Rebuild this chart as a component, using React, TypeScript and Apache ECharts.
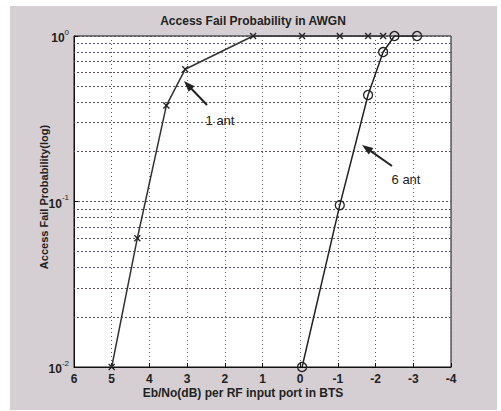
import React, { useEffect, useRef } from "react";
import * as echarts from "echarts";

// ---- data ----
const oneAntX = [5, 4.32, 3.55, 3.05, 1.25, -0.05, -1.05, -1.8, -2.2];
const oneAntY = [0.01, 0.06, 0.38, 0.63, 1, 1, 1, 1, 1];
const sixAntX = [-0.05, -1.05, -1.8, -2.2, -2.5, -3.1];
const sixAntY = [0.01, 0.095, 0.44, 0.8, 1, 1];
const minorGridY = [
  0.02, 0.03, 0.04, 0.05, 0.06, 0.07, 0.08, 0.09,
  0.2, 0.3, 0.4, 0.5, 0.6, 0.7, 0.8, 0.9,
];
const titleText = "Access Fail Probability in AWGN";
const xLabelText = "Eb/No(dB) per RF input port in BTS";
const yLabelText = "Access Fail Probability(log)";
const annotations = [
  { text: "1 ant", tip: [184, 81], tail: [207, 105], label: [220, 120] },
  { text: "6 ant", tip: [362, 145], tail: [392, 166], label: [406, 179] },
];

const W = 501;
const H = 411;
const INK = "#222";
const FONT = "'Liberation Sans', Arial, sans-serif";

function arrowGraphics(a: any) {
  const [tx, ty] = a.tip;
  const [sx, sy] = a.tail;
  const dx = tx - sx;
  const dy = ty - sy;
  const len = Math.sqrt(dx * dx + dy * dy);
  const ux = dx / len;
  const uy = dy / len;
  const hl = 11;
  const hw = 4;
  const bx = tx - ux * hl;
  const by = ty - uy * hl;
  const px = -uy * hw;
  const py = ux * hw;
  return [
    {
      type: "line",
      shape: { x1: sx, y1: sy, x2: bx + ux * 2, y2: by + uy * 2 },
      style: { stroke: INK, lineWidth: 2 },
      z: 100,
    },
    {
      type: "polygon",
      shape: {
        points: [
          [tx, ty],
          [bx + px, by + py],
          [bx - px, by - py],
        ],
      },
      style: { fill: INK },
      z: 100,
    },
    {
      type: "text",
      x: a.label[0],
      y: a.label[1],
      style: {
        text: a.text,
        fill: INK,
        font: `13px ${FONT}`,
        textAlign: "center",
        textVerticalAlign: "middle",
      },
      z: 100,
    },
  ];
}

export default function App() {
  const ref = useRef<HTMLDivElement>(null);

  useEffect(() => {
    if (!ref.current) return;
    const chart = echarts.init(ref.current, undefined, { renderer: "svg" });
    const oneAnt = oneAntX.map((x, i) => [x, oneAntY[i]]);
    const sixAnt = sixAntX.map((x, i) => [x, sixAntY[i]]);

    const option: any = {
      animation: false,
      backgroundColor: "transparent",
      grid: {
        left: 74,
        right: 50,
        top: 36,
        bottom: 44,
        show: true,
        backgroundColor: "#ffffff",
        borderColor: "#111",
        borderWidth: 1,
      },
      xAxis: {
        type: "value",
        inverse: true,
        min: -4,
        max: 6,
        interval: 1,
        axisLine: { show: true, onZero: false, lineStyle: { color: "#111", width: 1 } },
        axisTick: { show: true, inside: true, length: 4, lineStyle: { color: "#111" } },
        axisLabel: {
          color: INK,
          fontSize: 12,
          fontWeight: "bold",
          fontFamily: FONT,
          margin: 6,
        },
        splitLine: {
          show: true,
          lineStyle: { color: "#666", type: [1, 3], width: 1 },
        },
      },
      yAxis: {
        type: "log",
        logBase: 10,
        min: 0.01,
        max: 1,
        interval: 1,
        axisLine: { show: true, onZero: false, lineStyle: { color: "#111", width: 1 } },
        axisTick: { show: true, inside: true, length: 4, lineStyle: { color: "#111" } },
        axisLabel: {
          margin: 5,
          formatter: (v: number) => {
            const e = Math.round(Math.log10(v));
            return `{b|10}{s|${e}}`;
          },
          rich: {
            b: {
              fontSize: 12,
              fontWeight: "bold",
              fontFamily: FONT,
              color: INK,
              lineHeight: 16,
              verticalAlign: "bottom",
            },
            s: {
              fontSize: 8,
              fontFamily: FONT,
              color: INK,
              lineHeight: 8,
              verticalAlign: "top",
            },
          },
        },
        splitLine: {
          show: true,
          lineStyle: { color: "#5a5060", type: [2, 2], width: 1 },
        },
      },
      series: [
        {
          type: "line",
          data: [],
          z: 1,
          silent: true,
          markLine: {
            silent: true,
            symbol: ["none", "none"],
            label: { show: false },
            lineStyle: { color: "#5a5060", type: [2, 2], width: 1 },
            data: minorGridY.map((v) => ({ yAxis: v })),
          },
        },
        {
          name: "1 ant",
          type: "line",
          data: oneAnt,
          z: 5,
          symbol: "path://M0 0L10 10M10 0L0 10",
          symbolSize: 6,
          showAllSymbol: true,
          lineStyle: { color: "#333", width: 1.5 },
          itemStyle: { color: "#222", borderColor: "#222", borderWidth: 1.3 },
        },
        {
          name: "6 ant",
          type: "line",
          data: sixAnt,
          z: 5,
          symbol: "circle",
          symbolSize: 9,
          showAllSymbol: true,
          lineStyle: { color: "#222", width: 1.5 },
          itemStyle: { color: "transparent", borderColor: "#222", borderWidth: 1.3 },
        },
      ],
      graphic: [
        {
          type: "text",
          x: 253,
          y: 21,
          style: {
            text: titleText,
            fill: INK,
            font: `bold 12px ${FONT}`,
            textAlign: "center",
            textVerticalAlign: "middle",
          },
        },
        {
          type: "text",
          x: 243,
          y: 393,
          style: {
            text: xLabelText,
            fill: INK,
            font: `bold 12px ${FONT}`,
            textAlign: "center",
            textVerticalAlign: "middle",
          },
        },
        {
          type: "text",
          x: 44,
          y: 197,
          rotation: Math.PI / 2,
          style: {
            text: yLabelText,
            fill: INK,
            font: `bold 11px ${FONT}`,
            textAlign: "center",
            textVerticalAlign: "middle",
          },
        },
        ...annotations.flatMap((a) => arrowGraphics(a)),
      ],
    };
    chart.setOption(option);
    return () => chart.dispose();
  }, []);

  return (
    <div
      style={{
        position: "fixed",
        left: 0,
        top: 0,
        width: W,
        height: H,
        background: "#ffffff",
        overflow: "hidden",
      }}
    >
      <div
        style={{
          position: "absolute",
          left: 10,
          top: 6,
          width: 487,
          height: 404,
          background: "#d5cfd3",
        }}
      />
      <div
        ref={ref}
        style={{ position: "absolute", left: 0, top: 0, width: W, height: H }}
      />
    </div>
  );
}
